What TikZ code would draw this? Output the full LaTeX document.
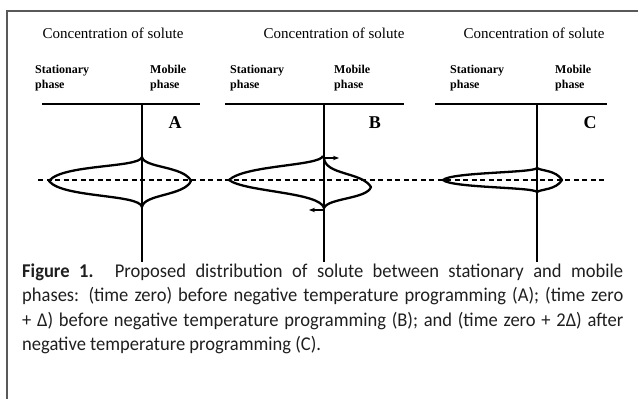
\documentclass[tikz,border=0pt]{standalone}
\usepackage{fontspec}
\setmainfont{Liberation Serif}
\newfontfamily\capfont[FakeStretch=0.95]{Carlito}
\usetikzlibrary{arrows.meta}

\begin{document}
\begin{tikzpicture}[x=1pt, y=-1pt,
  peak/.style={line width=2.3pt, line join=round},
  axis/.style={line width=1.2pt},
  flow/.style={line width=1.1pt, -{Stealth[length=6pt, width=4.5pt]}},
  capline/.style={font=\capfont\fontsize{19.5}{22}\selectfont, anchor=base west, inner sep=0pt, text=black!88}]

\useasboundingbox (0,0) rectangle (638,399);

% ── Frame ──
\draw[gray!70!black, line width=1.6pt] (7,399) -- (7,11) -- (638,11);

% Headers, axes and panel letters
% \p=panel, \t=title x, \s=stationary x, \m=mobile x, \l=letter x, \a/\b=rule ends, \v=axis x
\foreach \p/\t/\s/\m/\l/\a/\b/\v in {A/113/35/150/175/42/200/142, B/334/230/334/375/225/404/324, C/534/450/555/590/435/607/537} {
  \node[font=\fontsize{15}{17}\selectfont] (title\p) at (\t, 33) {Concentration of solute};
  \node[font=\bfseries\fontsize{12}{15}\selectfont, align=left, anchor=west, inner sep=0pt] (stat\p) at (\s, 78.5) {Stationary\\phase};
  \node[font=\bfseries\fontsize{12}{15}\selectfont, align=left, anchor=west, inner sep=0pt] (mob\p) at (\m, 78.5) {Mobile\\phase};
  \node[font=\bfseries\fontsize{18}{20}\selectfont] (lab\p) at (\l, 123) {\p};
  \draw[axis] (\a, 104) -- (\b, 104);
  \draw[axis] (\v, 104) -- (\v, 262);
}

% ── Equilibrium line ──
\draw[line width=1.2pt, dash pattern=on 5pt off 3.5pt] (38, 180) -- (605, 180);

% ── A: time zero ──
\draw[peak] (142,157) .. controls (140,168) and (62,164) .. (49,181) .. controls (62,198) and (140,194) .. (142,207);
\draw[peak] (142,157) .. controls (144,168) and (184,166) .. (191,181) .. controls (184,196) and (144,194) .. (142,207);

% ── B: time zero + delta ──
\draw[peak] (323,156) .. controls (320,166) and (245,165) .. (229,180) .. controls (245,192) and (320,192) .. (324,208);
\draw[peak] (324,158) .. controls (325,175) and (362,172) .. (371,187) .. controls (367,199) and (328,198) .. (324,208);
\coordinate (upB) at (325,158);
\coordinate (upBtip) at (339,158);
\coordinate (loB) at (323,210);
\coordinate (loBtip) at (309,210);
\draw[flow] (upB) -- (upBtip);
\draw[flow] (loB) -- (loBtip);

% ── C: time zero + 2 delta ──
\draw[peak] (537,168) .. controls (534,173) and (452,172) .. (443,180) .. controls (452,188) and (534,187) .. (537,192);
\draw[peak] (537,168) .. controls (541,171) and (556,170) .. (562,180) .. controls (556,190) and (541,189) .. (537,192);

% ── Caption ──
\node[capline] (cap1) at (22, 277) {\makebox[601pt][s]{\textbf{Figure 1.} Proposed distribution of solute between stationary and mobile}};
\node[capline] (cap2) at (22, 301) {\makebox[601pt][s]{phases: (time zero) before negative temperature programming (A); (time zero}};
\node[capline] (cap3) at (22, 326) {\makebox[601pt][s]{+ Δ) before negative temperature programming (B); and (time zero + 2Δ) after}};
\node[capline] (cap4) at (22, 350) {negative temperature programming (C).};

\end{tikzpicture}
\end{document}
